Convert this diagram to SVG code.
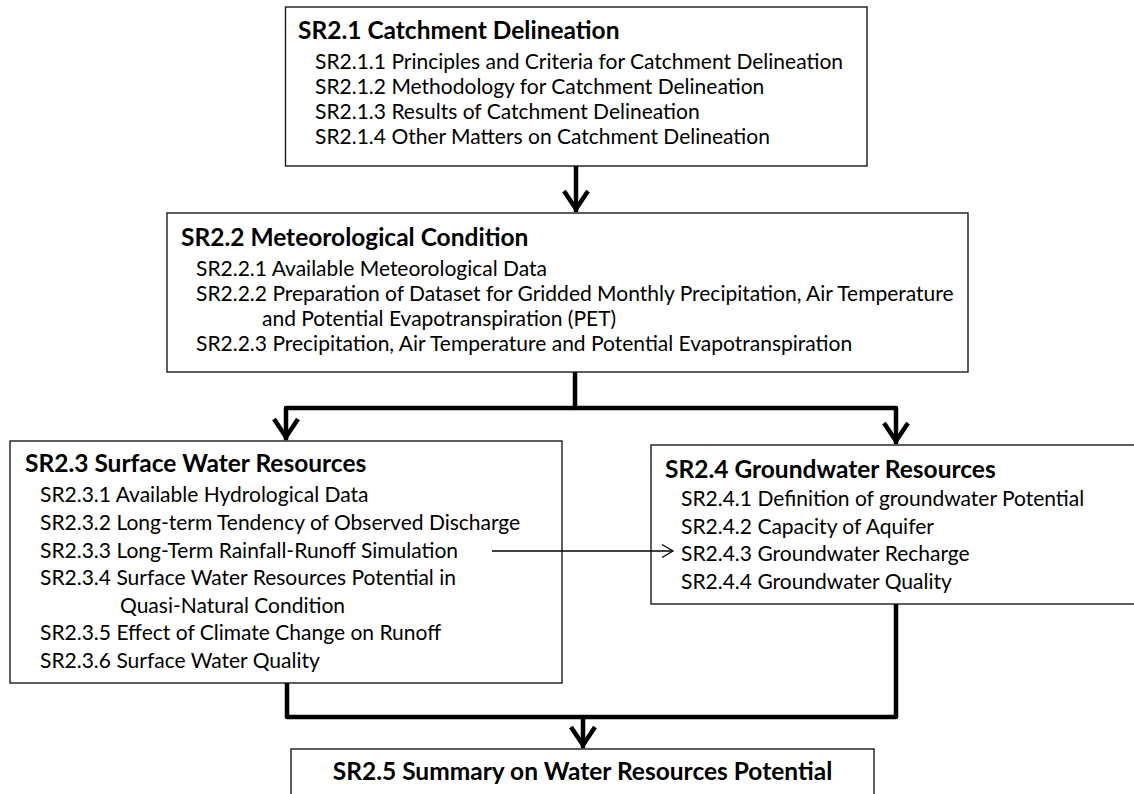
<svg xmlns="http://www.w3.org/2000/svg" width="1134" height="794" viewBox="0 0 1134 794">
<style>
.box{fill:#fff;stroke:#1a1a1a;stroke-width:1.4}
.t{font-family:Lato,"Open Sans","Liberation Sans",sans-serif;fill:#000}
.h{font-size:24.5px;font-weight:bold}
.s{font-size:21px}
.thick{fill:none;stroke:#000;stroke-width:4.5;stroke-linejoin:round}
.thin{fill:none;stroke:#000;stroke-width:1.3}
</style>
<defs>
<marker id="ah" markerUnits="userSpaceOnUse" markerWidth="34" markerHeight="34" viewBox="-28 -17 34 34" refX="0" refY="0" orient="auto">
<path d="M-21,-12 L-3,0 L-21,12" fill="none" stroke="#000" stroke-width="4.5" stroke-linejoin="miter"/>
</marker>
<marker id="ahs" markerUnits="userSpaceOnUse" markerWidth="20" markerHeight="20" viewBox="-16 -10 20 20" refX="0" refY="0" orient="auto">
<path d="M-11,-6.5 L0,0 L-11,6.5" fill="none" stroke="#000" stroke-width="1.3"/>
</marker>
</defs>
<g id="sr21">
<rect class="box" x="285.5" y="7" width="581.5" height="159"/>
<text class="t h" x="298" y="39">SR2.1 Catchment Delineation</text>
<text class="t s" x="315" y="69">SR2.1.1 Principles and Criteria for Catchment Delineation</text>
<text class="t s" x="315" y="94">SR2.1.2 Methodology for Catchment Delineation</text>
<text class="t s" x="315" y="119">SR2.1.3 Results of Catchment Delineation</text>
<text class="t s" x="315" y="144">SR2.1.4 Other Matters on Catchment Delineation</text>
</g>
<g id="sr22">
<rect class="box" x="167" y="213" width="801" height="159"/>
<text class="t h" x="181" y="246">SR2.2 Meteorological Condition</text>
<text class="t s" x="196" y="276">SR2.2.1 Available Meteorological Data</text>
<text class="t s" x="196" y="301">SR2.2.2 Preparation of Dataset for Gridded Monthly Precipitation, Air Temperature</text>
<text class="t s" x="262" y="326">and Potential Evapotranspiration (PET)</text>
<text class="t s" x="196" y="351">SR2.2.3 Precipitation, Air Temperature and Potential Evapotranspiration</text>
</g>
<g id="sr23">
<rect class="box" x="10" y="441" width="552" height="242"/>
<text class="t h" x="25" y="472">SR2.3 Surface Water Resources</text>
<text class="t s" x="40" y="502">SR2.3.1 Available Hydrological Data</text>
<text class="t s" x="40" y="530">SR2.3.2 Long-term Tendency of Observed Discharge</text>
<text class="t s" x="40" y="558">SR2.3.3 Long-Term Rainfall-Runoff Simulation</text>
<text class="t s" x="40" y="585">SR2.3.4 Surface Water Resources Potential in</text>
<text class="t s" x="120" y="613">Quasi-Natural Condition</text>
<text class="t s" x="40" y="640">SR2.3.5 Effect of Climate Change on Runoff</text>
<text class="t s" x="40" y="668">SR2.3.6 Surface Water Quality</text>
</g>
<g id="sr24">
<rect class="box" x="651" y="445" width="490" height="159"/>
<text class="t h" x="665" y="478">SR2.4 Groundwater Resources</text>
<text class="t s" x="681" y="506">SR2.4.1 Definition of groundwater Potential</text>
<text class="t s" x="681" y="534">SR2.4.2 Capacity of Aquifer</text>
<text class="t s" x="681" y="561">SR2.4.3 Groundwater Recharge</text>
<text class="t s" x="681" y="589">SR2.4.4 Groundwater Quality</text>
</g>
<g id="sr25">
<rect class="box" x="291" y="749" width="583" height="60"/>
<text class="t h" x="582.5" y="780" text-anchor="middle">SR2.5 Summary on Water Resources Potential</text>
</g>
<g id="connectors">
<line class="thick" x1="576" y1="166" x2="576" y2="212" marker-end="url(#ah)"/>
<polyline class="thick" points="575,372 575,408 286,408 286,440" marker-end="url(#ah)"/>
<polyline class="thick" points="575,408 896,408 896,444" marker-end="url(#ah)"/>
<polyline class="thick" points="287,683 287,717 896,717 896,604"/>
<line class="thick" x1="583" y1="717" x2="583" y2="748" marker-end="url(#ah)"/>
<line class="thin" x1="492" y1="551" x2="673" y2="551" marker-end="url(#ahs)"/>
</g>
</svg>
